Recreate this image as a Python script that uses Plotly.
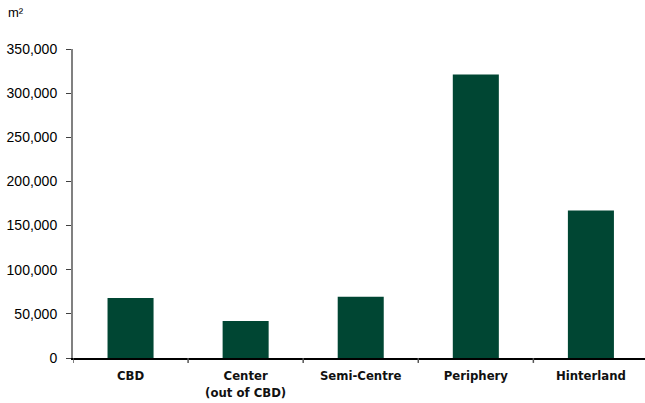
import plotly.graph_objects as go

# Floor space by location band (m²)
categories = ["CBD", "Center<br>(out of CBD)", "Semi-Centre", "Periphery", "Hinterland"]
floor_space = [68000, 42000, 69500, 321000, 167000]
y_ticks = [0, 50000, 100000, 150000, 200000, 250000, 300000, 350000]
y_tick_labels = ["0", "50,000", "100,000", "150,000", "200,000", "250,000", "300,000", "350,000"]

fig = go.Figure(
    go.Bar(
        x=list(range(len(categories))),
        y=floor_space,
        marker=dict(color="#004633", line=dict(width=0)),
        width=0.4,
    )
)

fig.update_layout(
    width=645,
    height=403,
    margin=dict(l=73, r=0, t=49, b=45),
    paper_bgcolor="white",
    plot_bgcolor="white",
    showlegend=False,
    bargap=0.6,
    font=dict(family="Liberation Sans, Arial, sans-serif", color="black"),
)

fig.update_xaxes(
    tickmode="array",
    tickvals=list(range(len(categories))),
    ticktext=categories,
    range=[-0.5, 4.47],
    showgrid=False,
    zeroline=False,
    showline=True,
    linecolor="black",
    linewidth=2,
    ticks="",
    ticklabelstandoff=4,
    tickfont=dict(family="DejaVu Sans Condensed, Liberation Sans Narrow, sans-serif",
                  size=13, color="#111111", weight="bold"),
)

# Boundary ticks between categories
for b in [-0.5, 0.5, 1.5, 2.5, 3.5]:
    fig.add_shape(type="line", xref="x", yref="paper",
                  x0=b, x1=b, y0=0, y1=-0.016,
                  line=dict(color="#555555", width=1.5))

fig.update_yaxes(
    range=[0, 350000],
    tickmode="array",
    tickvals=y_ticks,
    ticktext=y_tick_labels,
    showgrid=False,
    zeroline=False,
    showline=True,
    linecolor="#808080",
    linewidth=2,
    ticks="outside",
    ticklen=5,
    tickwidth=1,
    tickcolor="#404040",
    tickfont=dict(size=14, color="black"),
    ticklabelstandoff=6,
)

fig.add_annotation(
    text="m²", xref="paper", yref="paper", x=-0.117, y=1.117,
    xanchor="left", yanchor="middle", showarrow=False,
    font=dict(size=13, color="black"),
)

fig.write_html("out.html")
